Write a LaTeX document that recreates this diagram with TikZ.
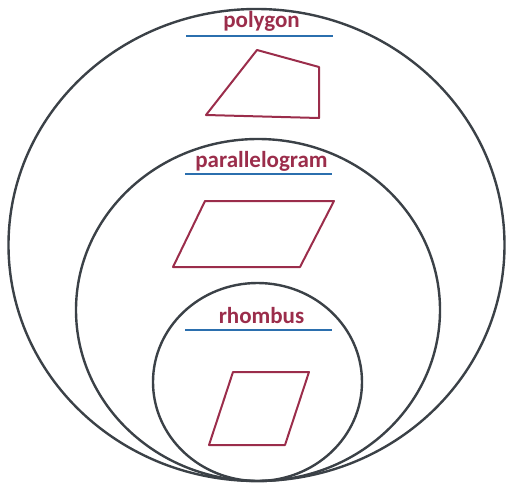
\documentclass[tikz,border=0pt]{standalone}
\usepackage{fontspec}
\setmainfont{Carlito}
\definecolor{ringcol}{HTML}{3B4147}
\definecolor{maroon}{HTML}{9B2D4B}
\definecolor{rulecol}{HTML}{2B6FAE}
\begin{document}
\begin{tikzpicture}[x=1pt,y=-1pt,
  ringline/.style={draw=ringcol,line width=2.4pt},
  figline/.style={draw=maroon,line width=2pt,line join=round},
  lbl/.style={text=maroon,font=\fontsize{23}{23}\selectfont\bfseries,anchor=base,inner sep=0pt},
  underline/.style={draw=rulecol,line width=2.8pt}]
\useasboundingbox (0,0) rectangle (509,485);
% rings
\draw[ringline] (256.5,245) ellipse [x radius=248pt, y radius=236pt];
\draw[ringline] (258,310) ellipse [x radius=182pt, y radius=171pt];
\draw[ringline] (257.5,382) ellipse [x radius=104.5pt, y radius=99pt];
% labels
\node[lbl] (poly) at (261.5,27) {polygon};
\node[lbl] (para) at (261.5,167) {parallelogram};
\node[lbl] (rhom) at (261.5,323) {rhombus};
\coordinate (u1a) at (186,36); \coordinate (u1b) at (333,36);
\coordinate (u2a) at (185,174); \coordinate (u2b) at (332,174);
\coordinate (u3a) at (185,330); \coordinate (u3b) at (332,330);
\draw[underline] (u1a) -- (u1b);
\draw[underline] (u2a) -- (u2b);
\draw[underline] (u3a) -- (u3b);
% shapes
\draw[figline] (257,50) -- (319,67) -- (319,118) -- (206,115) -- cycle;
\draw[figline] (205,201) -- (334,201) -- (300,267) -- (173,267) -- cycle;
\draw[figline] (233,372) -- (309,372) -- (285,445) -- (209,445) -- cycle;
\end{tikzpicture}
\end{document}
